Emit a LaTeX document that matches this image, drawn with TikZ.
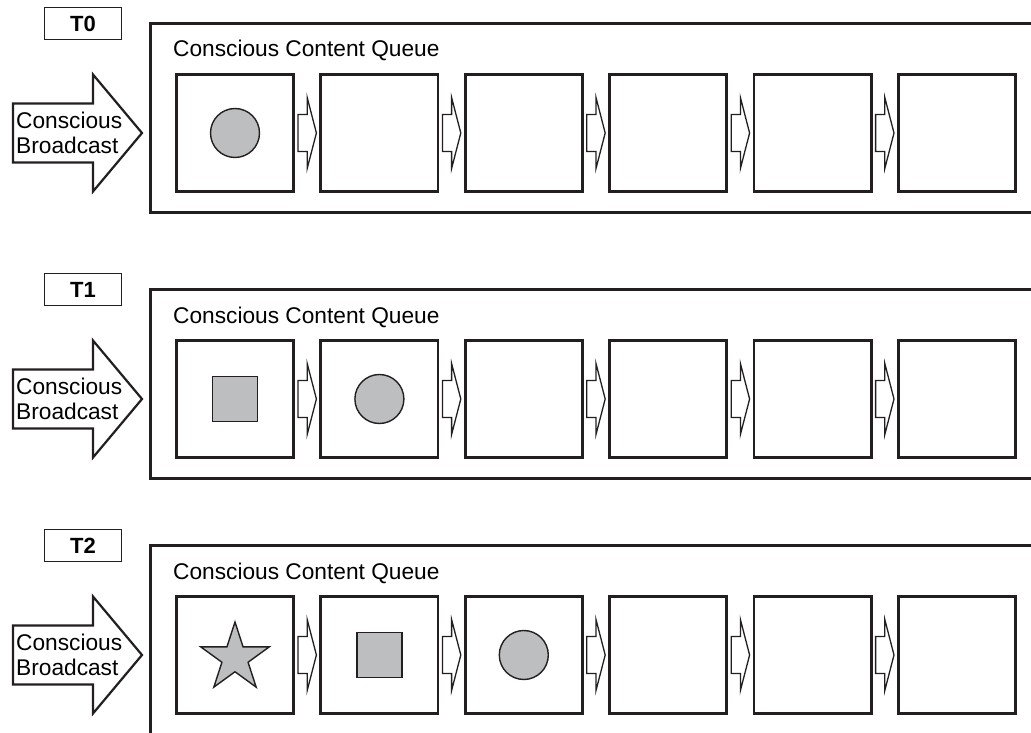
\documentclass[tikz,border=0pt]{standalone}
\usepackage{fontspec}
\setmainfont{Liberation Sans}
\usetikzlibrary{calc,shapes.geometric}
\definecolor{Ink}{HTML}{231F20}
\definecolor{Token}{HTML}{BCBEC0}

\tikzset{
  stamp/.style={draw=Ink,line width=1.2pt,minimum width=76.8pt,minimum height=31.8pt,inner sep=0pt,font=\fontsize{22}{22}\selectfont\bfseries},
  queuebox/.style={draw=Ink,line width=2.8pt,minimum width=920pt,minimum height=188.7pt,anchor=north west,inner sep=0pt},
  slot/.style={draw=Ink,line width=2.8pt,minimum size=117.2pt,inner sep=0pt},
  bigarrow/.style={draw=Ink,line width=2.2pt,fill=white,line join=miter},
  linkarrow/.style={draw=Ink,line width=1.3pt,fill=white,line join=miter},
  blob/.style={circle,draw=Ink,line width=1.4pt,fill=Token,minimum size=49pt,inner sep=0pt},
  tile/.style={draw=Ink,line width=1.9pt,fill=Token,minimum size=45pt,inner sep=0pt},
  spark/.style={star,star points=5,star point ratio=2.618,draw=Ink,line width=1.4pt,fill=Token,minimum size=72pt,inner sep=0pt},
  txt/.style={font=\fontsize{22.7}{25}\selectfont,inner sep=0pt},
}

\begin{document}
\begin{tikzpicture}[x=1pt,y=-1pt]
  \useasboundingbox (0,0) rectangle (1031,733);
  \clip (0,0) rectangle (1031,733);

  \foreach \r/\dy in {0/0,1/266,2/522}{
    \node[stamp] (t\r) at (83,23.5+\dy) {T\r};
    \node[queuebox] (q\r) at (149,22+\dy) {};
    \node[txt,anchor=base west] (ql\r) at (173,57+\dy) {Conscious Content Queue};
    \foreach \i in {1,...,6}
      \node[slot] (b\r\i) at ({235+144.4*(\i-1)},133+\dy) {};
    \foreach \i/\j in {1/2,2/3,3/4,4/5,5/6}
      \draw[linkarrow] let \p1=(b\r\i.east), \p2=(b\r\j.west), \n1={0.5*\x1+0.5*\x2} in
        (\x1+3pt,\y1+18.5pt) -- (\n1,\y1+18.5pt) -- (\n1,\y1+35.5pt) -- (\x2-3pt,\y1)
        -- (\n1,\y1-35.5pt) -- (\n1,\y1-18.5pt) -- (\x1+3pt,\y1-18.5pt) -- cycle;
    \draw[bigarrow] let \p1=(b\r1.center), \p2=(q\r.west) in
      (\x2-136pt,\y1+29.5pt) -- (\x2-56pt,\y1+29.5pt) -- (\x2-56pt,\y1+58.5pt) -- (\x2-7pt,\y1)
      -- (\x2-56pt,\y1-58.5pt) -- (\x2-56pt,\y1-29.5pt) -- (\x2-136pt,\y1-29.5pt) -- cycle;
    \node[txt,anchor=west,align=left] (cb\r) at (16,133+\dy) {Conscious\\Broadcast};
  }

  % queue contents
  \node[blob] (c0) at (b01) {};
  \node[tile] (s1) at (b11) {};
  \node[blob] (c1) at (b12) {};
  \node[spark] (k2) at ($(b21)+(0,3)$) {};
  \node[tile] (s2) at (b22) {};
  \node[blob] (c2) at (b23) {};
\end{tikzpicture}
\end{document}
